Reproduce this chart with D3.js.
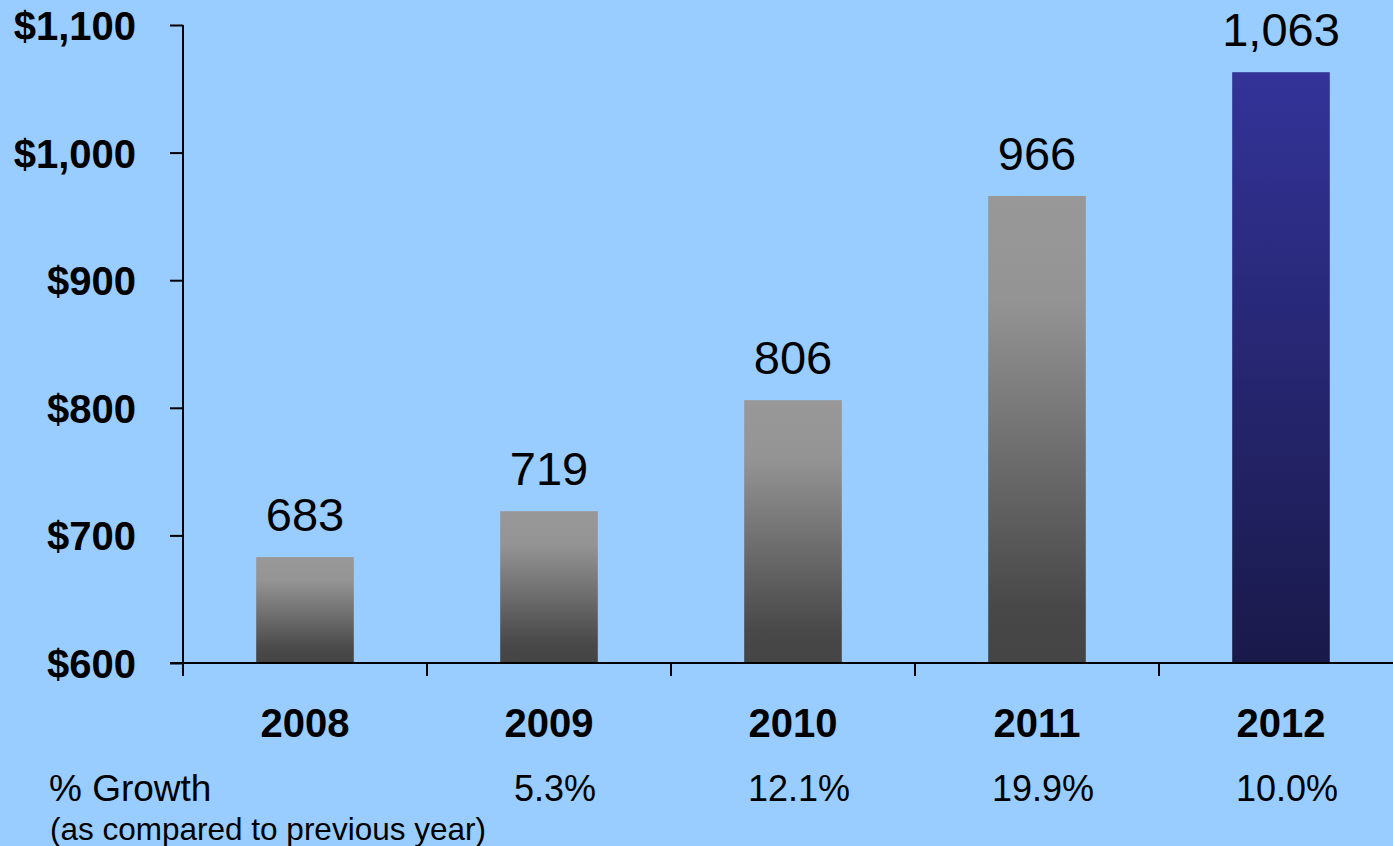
<!DOCTYPE html>
<html>
<head>
<meta charset="utf-8">
<script src="https://cdn.jsdelivr.net/npm/d3@7"></script>
<style>
  html, body { margin: 0; padding: 0; background: #99CCFF; }
  svg { display: block; }
  text { font-family: "Liberation Sans", Arial, sans-serif; fill: #000; }
</style>
</head>
<body>
<svg id="chart" width="1393" height="846"></svg>
<script>
// Annual values (in $ millions) and year-over-year growth
const years = ["2008", "2009", "2010", "2011", "2012"];
const values = [683, 719, 806, 966, 1063];
const valueLabels = ["683", "719", "806", "966", "1,063"];
const growth = ["", "5.3%", "12.1%", "19.9%", "10.0%"];
const yTicks = [600, 700, 800, 900, 1000, 1100];
const yTickLabels = ["$600", "$700", "$800", "$900", "$1,000", "$1,100"];
const highlightYear = "2012";

(function draw() {
  const svg = d3.select("#chart");
  const W = 1393, H = 846;

  svg.append("rect").attr("width", W).attr("height", H).attr("fill", "#99CCFF");

  const plotLeft = 183, plotRight = 1403, plotTop = 25, plotBottom = 663;

  const x = d3.scaleBand().domain(years).range([plotLeft, plotRight])
    .paddingInner(0.6).paddingOuter(0.3);
  const y = d3.scaleLinear().domain([600, 1100]).range([plotBottom, plotTop]);

  // Gradients: grey for past years, navy for the current year
  const defs = svg.append("defs");
  const grey = defs.append("linearGradient").attr("id", "gradGrey")
    .attr("x1", 0).attr("y1", 0).attr("x2", 0).attr("y2", 1);
  grey.append("stop").attr("offset", "0%").attr("stop-color", "#989898");
  grey.append("stop").attr("offset", "22%").attr("stop-color", "#949494");
  grey.append("stop").attr("offset", "88%").attr("stop-color", "#484848");
  grey.append("stop").attr("offset", "100%").attr("stop-color", "#444444");
  const navy = defs.append("linearGradient").attr("id", "gradNavy")
    .attr("x1", 0).attr("y1", 0).attr("x2", 0).attr("y2", 1);
  navy.append("stop").attr("offset", "0%").attr("stop-color", "#333399");
  navy.append("stop").attr("offset", "100%").attr("stop-color", "#19194A");

  const data = years.map((yr, i) => ({ year: yr, value: values[i], label: valueLabels[i], growth: growth[i] }));

  // Bars
  svg.append("g").selectAll("rect").data(data).join("rect")
    .attr("x", d => x(d.year))
    .attr("width", x.bandwidth())
    .attr("y", d => y(d.value))
    .attr("height", d => y(600) - y(d.value))
    .attr("fill", d => d.year === highlightYear ? "url(#gradNavy)" : "url(#gradGrey)");

  // Value labels
  svg.append("g").selectAll("text").data(data).join("text")
    .attr("x", d => x(d.year) + x.bandwidth() / 2)
    .attr("y", d => y(d.value) - 26)
    .attr("text-anchor", "middle")
    .style("font-size", "47px")
    .text(d => d.label);

  // Y axis
  const yAxis = d3.axisLeft(y).tickValues(yTicks)
    .tickFormat((d, i) => yTickLabels[i]).tickSize(13).tickSizeOuter(0).tickPadding(34);
  const gy = svg.append("g").attr("transform", `translate(${plotLeft},0)`).call(yAxis);
  gy.select(".domain").remove();
  gy.selectAll(".tick line").attr("stroke", "#000").attr("stroke-width", 2);
  gy.selectAll(".tick text")
    .style("font-size", "40px").style("font-weight", "bold")
    .style("font-family", "'Liberation Sans', Arial, sans-serif")
    .attr("fill", "#000").attr("dy", "0.36em");

  // Axis lines
  svg.append("line").attr("x1", plotLeft).attr("x2", plotLeft)
    .attr("y1", plotTop).attr("y2", plotBottom + 13)
    .attr("stroke", "#000").attr("stroke-width", 2);
  svg.append("line").attr("x1", plotLeft - 13).attr("x2", W)
    .attr("y1", plotBottom).attr("y2", plotBottom)
    .attr("stroke", "#000").attr("stroke-width", 2);

  // X ticks at category boundaries
  const bounds = years.map(yr => x(yr) - x.step() * x.paddingInner() / 2).slice(1);
  svg.append("g").selectAll("line").data(bounds).join("line")
    .attr("x1", d => d).attr("x2", d => d)
    .attr("y1", plotBottom).attr("y2", plotBottom + 13)
    .attr("stroke", "#000").attr("stroke-width", 2);

  // Year labels
  svg.append("g").selectAll("text").data(data).join("text")
    .attr("x", d => x(d.year) + x.bandwidth() / 2)
    .attr("y", 737)
    .attr("text-anchor", "middle")
    .style("font-size", "40px").style("font-weight", "bold")
    .text(d => d.year);

  // Growth row
  svg.append("text").attr("x", 49).attr("y", 801)
    .style("font-size", "37px").text("% Growth");
  svg.append("text").attr("x", 50).attr("y", 840)
    .style("font-size", "31.5px").text("(as compared to previous year)");
  svg.append("g").selectAll("text").data(data.filter(d => d.growth)).join("text")
    .attr("x", d => x(d.year) + x.bandwidth() / 2 + 6)
    .attr("y", 801)
    .attr("text-anchor", "middle")
    .style("font-size", "36px")
    .text(d => d.growth);
})();
</script>
</body>
</html>
